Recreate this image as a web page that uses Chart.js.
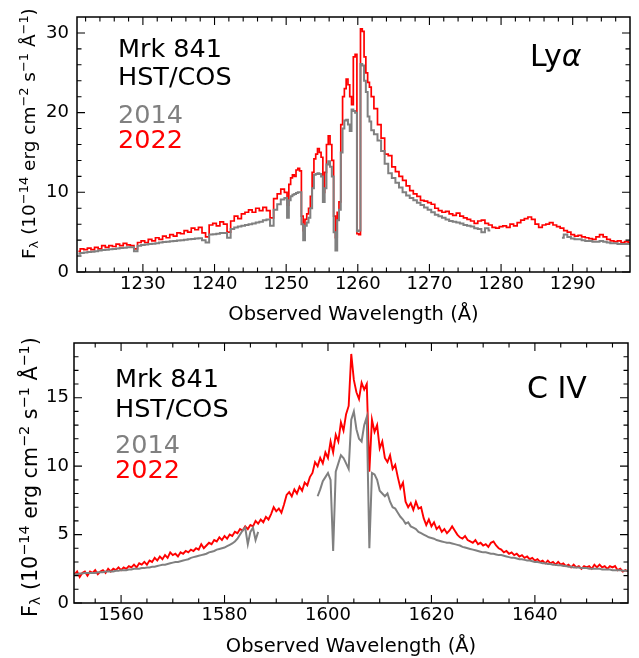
<!DOCTYPE html>
<html>
<head>
<meta charset="utf-8">
<script src="https://cdn.jsdelivr.net/npm/chart.js@4.4.1/dist/chart.umd.min.js"></script>
<style>
  body { margin: 0; background: #fff; }
  #wrap { position: relative; width: 639px; height: 658px; }
  canvas { position: absolute; left: 0; }
</style>
</head>
<body>
<div id="wrap">
  <canvas id="lya" width="639" height="329" style="top:0"></canvas>
  <canvas id="civ" width="639" height="329" style="top:329px"></canvas>
</div>
<script>
// ---- Ly-alpha panel ----
const lyaWave = [
  1221,1221.5,1222,1222.5,1223,1223.5,1224,1224.5,1225,1225.5,1226,1226.5,1227,1227.5,1228,1228.5,1229,1229.5,1230,1230.5,
  1231,1231.5,1232,1232.5,1233,1233.5,1234,1234.5,1235,1235.5,1236,1236.5,1237,1237.5,1238,1238.5,1239,1239.5,1240,1240.5,
  1241,1241.5,1242,1242.5,1243,1243.5,1244,1244.5,1245,1245.5,1246,1246.5,1247,1247.5,1248,1248.5,1249,1249.5,1250,
  1250.25,1250.5,1250.75,1251,1251.25,1251.5,1251.75,1252,1252.25,1252.5,1252.75,1253,1253.25,1253.5,1253.75,1254,
  1254.25,1254.5,1254.75,1255,1255.25,1255.5,1255.75,1256,1256.25,1256.5,1256.75,1257,1257.25,1257.5,1257.75,1258,
  1258.25,1258.5,1258.75,1259,1259.25,1259.5,1259.75,1260,1260.25,1260.5,1260.75,1261,1261.25,1261.5,1261.75,1262,
  1262.5,1263,1263.5,1264,1264.5,1265,1265.5,1266,1266.5,1267,1267.5,1268,1268.5,1269,1269.5,1270,1270.5,1271,1271.5,1272,
  1272.5,1273,1273.5,1274,1274.5,1275,1275.5,1276,1276.5,1277,1277.5,1278,1278.5,1279,1279.5,1280,1280.5,1281,1281.5,1282,
  1282.5,1283,1283.5,1284,1284.5,1285,1285.5,1286,1286.5,1287,1287.5,1288,1288.5,1289,1289.5,1290,1290.5,1291,1291.5,1292,
  1292.5,1293,1293.5,1294,1294.5,1295,1295.5,1296,1296.5,1297,1297.5,1298
];
const lya2022 = [
  2.6,2.9,2.8,3.0,2.8,3.1,2.9,3.3,3.1,3.3,3.2,3.5,3.3,3.6,3.4,3.3,2.9,3.7,3.9,3.7,
  4.1,3.9,4.3,4.1,4.5,4.3,4.7,4.5,4.9,4.8,5.2,5.0,5.5,5.3,5.6,4.9,4.4,5.9,6.1,5.8,
  6.3,6.0,5.0,6.4,7.0,6.7,7.3,7.5,7.8,7.5,8.0,7.7,8.1,7.7,6.8,9.2,9.8,10.4,10.0,
  8.4,11.0,11.8,12.2,12.0,12.8,13.0,12.7,7.0,5.2,6.6,7.3,8.0,9.5,12.5,14.2,
  14.8,15.5,15.0,14.4,10.0,12.5,16.0,17.1,16.0,14.0,7.0,4.3,7.5,8.8,18.5,22.0,
  23.0,24.2,23.5,22.0,21.0,27.0,27.3,4.8,4.7,30.5,30.2,27.0,25.0,23.8,23.2,22.0,
  20.5,18.5,16.8,14.8,14.6,13.2,12.6,12.0,11.5,10.8,10.2,9.8,9.5,9.0,8.9,8.7,8.5,8.0,7.7,7.5,
  7.6,7.3,7.1,7.4,7.0,6.8,6.6,6.4,6.1,6.4,6.5,6.1,5.9,5.6,5.5,5.7,5.8,5.6,6.0,5.8,
  6.2,6.5,6.7,6.9,6.6,6.0,5.6,5.9,6.0,6.2,5.9,5.7,5.5,5.2,5.0,4.7,4.5,4.6,4.4,4.3,
  4.2,4.1,4.4,4.7,4.4,4.1,3.9,3.8,3.9,3.7,3.8,3.7
];
const lya2014 = [
  2.3,2.4,2.45,2.5,2.55,2.6,2.7,2.75,2.8,2.85,2.9,2.95,3.0,3.05,3.1,3.1,2.6,3.3,3.4,3.45,
  3.5,3.55,3.6,3.7,3.75,3.8,3.85,3.9,3.95,4.0,4.05,4.1,4.15,4.2,4.25,4.0,3.7,4.7,4.75,4.8,
  4.9,4.9,4.3,5.4,5.6,5.7,5.8,5.9,6.0,6.1,6.2,6.3,6.5,6.6,5.8,7.8,8.5,9.1,9.3,
  6.8,9.0,9.5,9.7,9.8,9.9,10.0,10.0,6.0,4.0,5.8,6.2,6.8,8.0,10.5,12.2,
  12.3,12.4,12.3,12.0,8.8,10.5,13.5,13.9,13.2,12.0,5.0,2.7,6.5,7.8,15.0,18.0,
  19.0,19.1,18.5,17.7,20.4,20.2,20.0,5.1,5.2,26.1,25.9,24.0,22.6,19.5,18.9,17.8,
  17.3,16.5,15.2,13.6,12.4,11.8,11.2,10.6,10.0,9.6,9.3,9.0,8.7,8.4,8.1,7.8,7.5,7.2,7.0,6.8,
  6.6,6.4,6.3,6.2,6.1,5.9,5.8,5.7,5.5,5.4,5.0,5.5,5.2,null,null,null,null,null,null,null,
  null,null,null,null,null,null,null,null,null,null,null,null,4.3,4.7,4.4,4.2,4.1,4.1,4.0,3.9,
  3.9,3.8,3.8,3.9,3.8,3.7,3.6,3.6,3.5,3.5,3.5,3.5
];
const lyaXTicks = [1230, 1240, 1250, 1260, 1270, 1280, 1290];
const lyaXMinor = [1222,1224,1226,1228,1232,1234,1236,1238,1242,1244,1246,1248,1252,1254,1256,1258,
                   1262,1264,1266,1268,1272,1274,1276,1278,1282,1284,1286,1288,1292,1294,1296];
const lyaYTicks = [0, 10, 20, 30];
const lyaYMinor = [2,4,6,8,12,14,16,18,22,24,26,28];

// ---- C IV panel ----
const civWave = [
  1551,1551.5,1552,1552.5,1553,1553.5,1554,1554.5,1555,1555.5,1556,1556.5,1557,1557.5,1558,1558.5,1559,1559.5,1560,1560.5,
  1561,1561.5,1562,1562.5,1563,1563.5,1564,1564.5,1565,1565.5,1566,1566.5,1567,1567.5,1568,1568.5,1569,1569.5,1570,1570.5,
  1571,1571.5,1572,1572.5,1573,1573.5,1574,1574.5,1575,1575.5,1576,1576.5,1577,1577.5,1578,1578.5,1579,1579.5,1580,1580.5,
  1581,1581.5,1582,1582.5,1583,1583.5,1584,1584.5,1585,1585.5,1586,1586.5,1587,1587.5,1588,1588.5,1589,1589.5,1590,1590.5,
  1591,1591.5,1592,1592.5,1593,1593.5,1594,1594.5,1595,1595.5,1596,1596.5,1597,1597.5,1598,1598.5,1599,1599.5,1600,1600.5,
  1601,1601.5,1602,1602.5,1603,1603.5,1604,1604.5,1605,1605.5,1606,1606.5,1607,1607.5,1608,1608.5,1609,1609.5,1610,1610.5,
  1611,1611.5,1612,1612.5,1613,1613.5,1614,1614.5,1615,1615.5,1616,1616.5,1617,1617.5,1618,1618.5,1619,1619.5,1620,1620.5,
  1621,1621.5,1622,1622.5,1623,1623.5,1624,1624.5,1625,1625.5,1626,1626.5,1627,1627.5,1628,1628.5,1629,1629.5,1630,1630.5,
  1631,1631.5,1632,1632.5,1633,1633.5,1634,1634.5,1635,1635.5,1636,1636.5,1637,1637.5,1638,1638.5,1639,1639.5,1640,1640.5,
  1641,1641.5,1642,1642.5,1643,1643.5,1644,1644.5,1645,1645.5,1646,1646.5,1647,1647.5,1648,1648.5,1649,1649.5,1650,1650.5,
  1651,1651.5,1652,1652.5,1653,1653.5,1654,1654.5,1655,1655.5,1656,1656.5,1657,1657.5,1658
];
const civ2022 = [
  2.1,2.3,1.9,2.2,2.3,2.0,2.3,2.2,2.4,2.1,2.3,2.4,2.2,2.5,2.3,2.5,2.4,2.6,2.4,2.6,
  2.5,2.7,2.6,2.8,2.6,2.9,2.8,3.0,2.8,3.1,3.0,3.3,3.1,3.4,3.2,3.5,3.3,3.7,3.5,3.6,
  3.4,3.7,3.6,3.8,3.7,3.9,3.8,4.0,3.9,4.3,4.0,4.2,4.4,4.3,4.6,4.5,4.8,4.6,4.9,4.7,
  5.0,4.9,5.2,5.1,5.4,5.3,5.6,5.4,5.7,5.6,6.0,5.8,6.1,5.9,6.3,6.1,6.5,7.0,6.7,6.9,
  6.6,7.2,7.9,8.1,7.8,8.3,8.0,8.5,8.2,8.8,8.6,9.2,9.5,10.3,10.0,10.6,10.2,11.0,10.6,11.8,
  11.0,12.3,11.8,13.2,12.6,13.8,14.4,18.2,16.3,15.4,14.9,16.1,15.6,16.0,9.6,13.4,12.5,13.0,11.3,11.8,
  10.6,10.3,10.8,9.8,10.1,9.2,8.4,8.8,7.4,7.0,7.3,6.8,7.4,6.9,7.0,6.2,5.7,6.1,5.6,5.9,
  5.4,5.6,5.2,5.4,5.1,5.3,5.6,5.3,5.0,4.8,4.7,4.9,4.6,4.5,4.4,4.6,4.3,4.4,4.2,4.3,
  4.1,4.4,4.5,4.2,4.0,3.9,3.7,3.8,3.6,3.7,3.5,3.6,3.4,3.5,3.3,3.4,3.2,3.3,3.1,3.2,
  3.0,3.1,2.9,3.1,2.9,3.0,2.8,3.0,2.8,2.9,2.7,2.8,2.6,2.8,2.6,2.7,2.5,2.7,2.6,2.7,
  2.5,2.8,2.6,2.8,2.6,2.7,2.5,2.7,2.6,2.7,2.4,2.5,2.3,2.4,2.3
];
const civ2014 = [
  2.1,2.1,2.15,2.15,2.2,2.2,2.2,2.2,2.2,2.25,2.25,2.25,2.3,2.3,2.3,2.3,2.35,2.35,2.4,2.4,
  2.4,2.45,2.45,2.5,2.5,2.5,2.55,2.55,2.6,2.6,2.65,2.65,2.7,2.75,2.8,2.8,2.85,2.9,2.95,3.0,
  3.0,3.05,3.1,3.15,3.2,3.3,3.35,3.4,3.45,3.5,3.55,3.6,3.7,3.75,3.8,3.9,3.95,4.0,4.05,4.15,
  4.25,4.35,4.5,4.7,5.0,5.3,5.5,4.3,5.2,5.5,4.6,5.2,null,null,null,null,null,null,null,null,
  null,null,null,null,null,null,null,null,null,null,null,null,null,null,7.8,8.3,8.9,9.2,9.5,9.0,
  3.8,9.6,10.2,10.8,10.6,10.2,9.8,13.4,14.0,12.7,12.0,11.8,13.0,13.6,4.0,9.5,9.4,9.0,8.2,8.0,
  7.8,8.0,7.4,7.0,6.9,6.6,6.3,6.1,5.8,5.9,5.6,5.5,5.4,5.2,5.1,5.0,4.9,4.8,4.75,4.7,
  4.6,4.55,4.5,4.45,4.4,4.4,4.35,4.3,4.25,4.2,4.1,4.05,4.0,3.95,3.9,3.85,3.8,3.75,3.7,3.7,
  3.65,3.6,3.6,3.55,3.5,3.5,3.45,3.4,3.35,3.3,3.3,3.25,3.2,3.2,3.15,3.1,3.1,3.05,3.0,3.0,
  2.95,2.9,2.9,2.85,2.85,2.8,2.8,2.75,2.75,2.7,2.7,2.65,2.65,2.6,2.6,2.6,2.55,2.55,2.55,2.5,
  2.5,2.5,2.5,2.5,2.45,2.45,2.45,2.45,2.4,2.4,2.4,2.4,2.35,2.35,2.35
];
const civXTicks = [1560, 1580, 1600, 1620, 1640];
const civXMinor = [1555,1565,1570,1575,1585,1590,1595,1605,1610,1615,1625,1630,1635,1645,1650,1655];
const civYTicks = [0, 5, 10, 15];
const civYMinor = [1,2,3,4,6,7,8,9,11,12,13,14,16,17,18];

const FONT = '"DejaVu Sans", sans-serif';
const GRAY = '#808080';
const RED = '#ff0000';

const yLabel = [
  { t: 'F' }, { t: 'λ', sub: true }, { t: ' (10' }, { t: '−14', sup: true },
  { t: ' erg cm' }, { t: '−2', sup: true }, { t: ' s' }, { t: '−1', sup: true },
  { t: ' Å' }, { t: '−1', sup: true }, { t: ')' }
];

function richRun(ctx, parts, size, draw) {
  let x = 0;
  for (const p of parts) {
    const s = (p.sup || p.sub) ? size * 0.7 : size;
    ctx.font = `${s}px ${FONT}`;
    const dy = p.sup ? -size * 0.37 : p.sub ? size * 0.17 : 0;
    if (draw) ctx.fillText(p.t, x, dy);
    x += ctx.measureText(p.t).width;
  }
  return x;
}

const decor = {
  id: 'decor',
  afterDraw(chart, args, o) {
    const { ctx, chartArea: a } = chart;
    const sx = chart.scales.x, sy = chart.scales.y;
    ctx.save();
    ctx.strokeStyle = '#000';
    ctx.lineWidth = 1.1;
    ctx.beginPath();
    const xt = (vals, len) => vals.forEach(v => {
      const p = sx.getPixelForValue(v);
      ctx.moveTo(p, a.bottom); ctx.lineTo(p, a.bottom - len);
      ctx.moveTo(p, a.top); ctx.lineTo(p, a.top + len);
    });
    const yt = (vals, len) => vals.forEach(v => {
      const p = sy.getPixelForValue(v);
      ctx.moveTo(a.left, p); ctx.lineTo(a.left + len, p);
      ctx.moveTo(a.right, p); ctx.lineTo(a.right - len, p);
    });
    xt(o.xMajor, 8); xt(o.xMinor, 4.5);
    yt(o.yMajor, 8); yt(o.yMinor, 4.5);
    ctx.stroke();
    ctx.lineWidth = 1.5;
    ctx.strokeRect(a.left, a.top, a.right - a.left, a.bottom - a.top);

    ctx.fillStyle = '#000';
    ctx.textBaseline = 'alphabetic';
    ctx.textAlign = 'center';
    ctx.font = `19.5px ${FONT}`;
    ctx.fillText('Observed Wavelength (Å)', (a.left + a.right) / 2, o.xTitleY);

    // rotated y title, scaled to the measured length
    ctx.textAlign = 'left';
    const w = richRun(ctx, yLabel, 20, false);
    const size = 20 * o.yTitleLen / w;
    ctx.save();
    ctx.translate(o.yTitleX, o.yTitleY);
    ctx.rotate(-Math.PI / 2);
    richRun(ctx, yLabel, size, true);
    ctx.restore();

    for (const n of o.notes) {
      ctx.fillStyle = n.color || '#000';
      ctx.font = `${n.size}px ${FONT}`;
      ctx.fillText(n.text, n.x, n.y);
      if (n.italic) {
        const dx = ctx.measureText(n.text).width;
        ctx.font = `italic ${n.size}px ${FONT}`;
        ctx.fillText(n.italic, n.x + dx, n.y);
      }
    }
    ctx.restore();
  }
};

const pts = (wave, flux) => wave.map((w, i) => ({ x: w, y: flux[i] }));

function spectrum(id, s) {
  const tickFont = { family: FONT, size: 18, lineHeight: 1 };
  return new Chart(document.getElementById(id), {
    type: 'line',
    data: {
      datasets: [
        { label: '2014', data: pts(s.wave, s.old), borderColor: GRAY, borderWidth: 2,
          stepped: s.step, pointRadius: 0, spanGaps: false },
        { label: '2022', data: pts(s.wave, s.neu), borderColor: RED, borderWidth: s.redWidth,
          stepped: s.step, pointRadius: 0, spanGaps: false }
      ]
    },
    options: {
      responsive: false,
      animation: false,
      events: [],
      layout: { padding: s.pad },
      plugins: {
        legend: { display: false },
        tooltip: { enabled: false },
        decor: s.decor
      },
      scales: {
        x: {
          type: 'linear', min: s.xMin, max: s.xMax,
          grid: { display: false, drawTicks: false },
          border: { display: false },
          ticks: { font: tickFont, color: '#000', padding: s.xPad, maxRotation: 0, callback: v => String(v) },
          afterBuildTicks: sc => { sc.ticks = s.xTicks.map(v => ({ value: v })); },
          afterFit: sc => { sc.height = s.xH; }
        },
        y: {
          type: 'linear', min: 0, max: s.yMax,
          grid: { display: false, drawTicks: false },
          border: { display: false },
          ticks: { font: tickFont, color: '#000', padding: s.yPad, callback: v => String(v) },
          afterBuildTicks: sc => { sc.ticks = s.yTicks.map(v => ({ value: v })); },
          afterFit: sc => { sc.width = s.yW; }
        }
      }
    },
    plugins: [decor]
  });
}

spectrum('lya', {
  wave: lyaWave, old: lya2014, neu: lya2022,
  xMin: 1220.8, xMax: 1298, yMax: 32,
  xTicks: lyaXTicks, yTicks: lyaYTicks,
  step: 'middle', redWidth: 1.7,
  pad: { top: 9, right: 9, left: 0, bottom: 0 },
  xH: 57, yW: 77, xPad: 3, yPad: 8,
  decor: {
    xMajor: lyaXTicks, xMinor: lyaXMinor, yMajor: lyaYTicks, yMinor: lyaYMinor,
    xTitleY: 320, yTitleX: 35, yTitleY: 259, yTitleLen: 251,
    notes: [
      { text: 'Mrk 841', x: 118, y: 57, size: 25.5 },
      { text: 'HST/COS', x: 118, y: 85, size: 25.5 },
      { text: '2014', x: 118, y: 123, size: 25.5, color: GRAY },
      { text: '2022', x: 118, y: 148, size: 25.5, color: RED },
      { text: 'Ly', italic: 'α', x: 530, y: 66, size: 30 }
    ]
  }
});

spectrum('civ', {
  wave: civWave, old: civ2014, neu: civ2022,
  xMin: 1550.9, xMax: 1658, yMax: 19,
  xTicks: civXTicks, yTicks: civYTicks,
  step: false, redWidth: 1.9,
  pad: { top: 11, right: 11, left: 0, bottom: 0 },
  xH: 55, yW: 74, xPad: 3, yPad: 5,
  decor: {
    xMajor: civXTicks, xMinor: civXMinor, yMajor: civYTicks, yMinor: civYMinor,
    xTitleY: 323, yTitleX: 36.5, yTitleY: 288, yTitleLen: 280,
    notes: [
      { text: 'Mrk 841', x: 115, y: 58, size: 25.5 },
      { text: 'HST/COS', x: 115, y: 88, size: 25.5 },
      { text: '2014', x: 115, y: 124, size: 25.5, color: GRAY },
      { text: '2022', x: 115, y: 149, size: 25.5, color: RED },
      { text: 'C IV', x: 527, y: 69, size: 30 }
    ]
  }
});
</script>
</body>
</html>
